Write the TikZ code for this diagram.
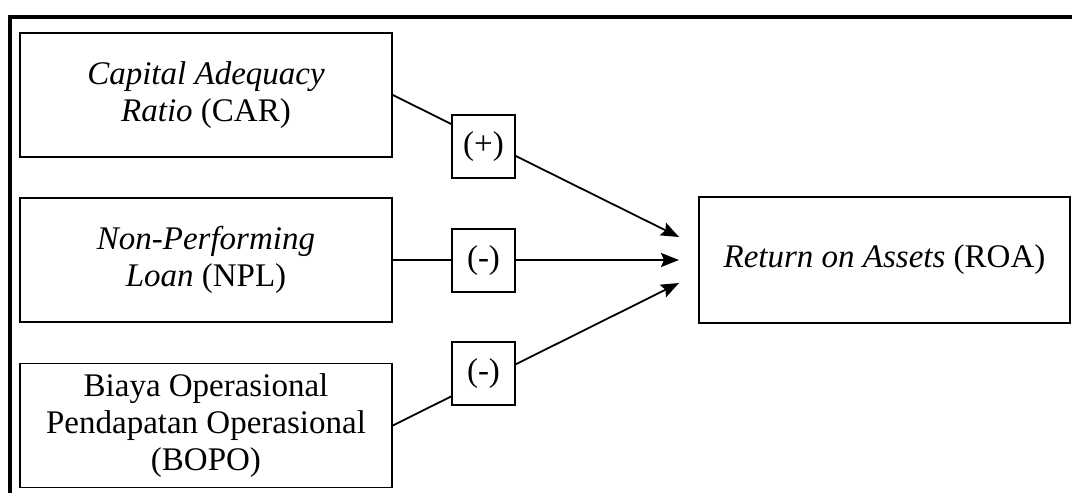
\documentclass[tikz,border=0pt]{standalone}
\usepackage{fontspec}
\setmainfont{Liberation Serif}
\usetikzlibrary{arrows.meta}
\begin{document}
\begin{tikzpicture}[x=1pt,y=-1pt,
  varbox/.style={draw,line width=1.6pt,minimum width=372pt,minimum height=124pt,inner sep=0pt,align=center,
    font=\fontsize{33}{37}\selectfont},
  signbox/.style={draw,fill=white,line width=1.6pt,minimum width=63pt,minimum height=63pt,inner sep=0pt,
    font=\fontsize{33}{37}\selectfont},
  link/.style={line width=1.8pt,-{Stealth[length=18pt,width=14pt,inset=3pt]}},
  frameline/.style={line width=4pt}]
\useasboundingbox (0,0) rectangle (1072,493);
% outer frame
\coordinate (ftl) at (8,17);
\coordinate (ftr) at (1072,17);
\coordinate (fl1) at (10,15);
\coordinate (fl2) at (10,493);
\draw[frameline] (ftl) -- (ftr);
\draw[frameline] (fl1) -- (fl2);
% variable boxes
\node[varbox] (car) at (206,95) {\textit{Capital Adequacy}\\\textit{Ratio} (CAR)};
\node[varbox] (npl) at (206,260) {\textit{Non-Performing}\\\textit{Loan} (NPL)};
\node[varbox] (bopo) at (206,425.5) {Biaya Operasional\\Pendapatan Operasional\\(BOPO)};
\node[varbox,minimum width=371pt,minimum height=126pt] (roa) at (884.5,260) {\textit{Return on Assets} (ROA)};
% arrow tips
\coordinate (t1) at (679,237);
\coordinate (t2) at (679,260);
\coordinate (t3) at (679,283);
\draw[link] (car.east) -- (t1);
\draw[link] (npl.east) -- (t2);
\draw[link] (bopo.east) -- (t3);
% sign boxes
\node[signbox] (s1) at (483.5,146.5) {(+)};
\node[signbox] (s2) at (483.5,260.5) {(-)};
\node[signbox] (s3) at (483.5,373.5) {(-)};
\end{tikzpicture}
\end{document}
